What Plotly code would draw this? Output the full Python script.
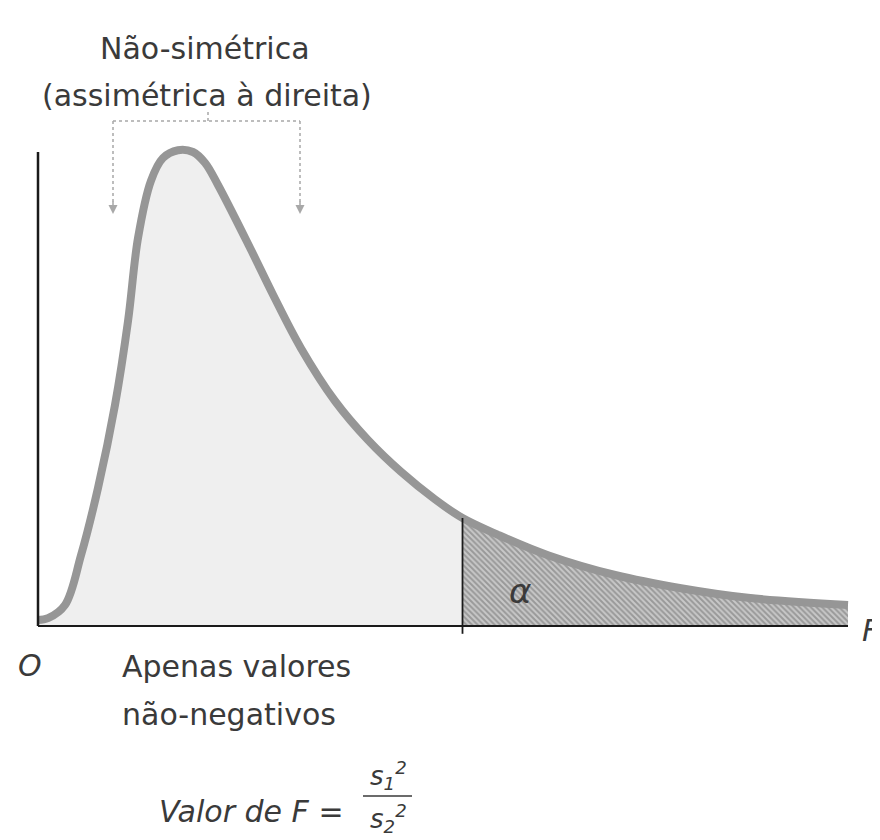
import plotly.graph_objects as go

# curve of the F density (F value, height)
f_vals = [0.0, 0.067, 0.18, 0.287, 0.4, 0.513, 0.6, 0.667, 0.753, 0.833, 0.933, 1.033,
          1.113, 1.2, 1.42, 1.567, 1.753, 1.98, 2.2, 2.42, 2.647, 2.83,
          3.067, 3.4, 3.847, 4.287, 4.733, 5.4]
density = [0.01, 0.013, 0.035, 0.118, 0.23, 0.368, 0.508, 0.647, 0.742, 0.78, 0.793, 0.79,
           0.772, 0.735, 0.627, 0.552, 0.463, 0.375, 0.31, 0.257, 0.211, 0.18,
           0.152, 0.118, 0.085, 0.063, 0.047, 0.035]
f_crit = 2.83
y_axis_top = 0.79

W, H = 880, 840
def px(x):
    return x / W
def py(y):
    return 1 - y / H

left_x = [x for x in f_vals if x <= f_crit]
left_y = density[:len(left_x)]
right_x = [x for x in f_vals if x >= f_crit]
right_y = density[len(f_vals) - len(right_x):]
crit_y = density[f_vals.index(f_crit)]

fig = go.Figure()

fig.add_trace(go.Scatter(
    x=left_x, y=left_y, mode="lines", fill="tozeroy",
    fillcolor="#efefef", line=dict(width=0, shape="spline"),
    hoverinfo="skip"))

fig.add_trace(go.Scatter(
    x=right_x, y=right_y, mode="lines", fill="tozeroy",
    fillcolor="#c4c4c4",
    fillpattern=dict(shape="\\", fgcolor="#6a6a6a", bgcolor="#c8c8c8",
                     size=4, solidity=0.5),
    line=dict(width=0, shape="spline"),
    hoverinfo="skip"))

fig.add_trace(go.Scatter(
    x=f_vals, y=density, mode="lines",
    line=dict(color="#969696", width=8, shape="spline"),
    hoverinfo="skip"))

# axes as drawn in the figure
fig.add_shape(type="line", x0=0, x1=0, y0=0, y1=y_axis_top,
              line=dict(color="#1a1a1a", width=2.5))
fig.add_shape(type="line", x0=0, x1=f_vals[-1], y0=0, y1=0,
              line=dict(color="#1a1a1a", width=2))
fig.add_shape(type="line", x0=f_crit, x1=f_crit, y0=-0.013, y1=crit_y,
              line=dict(color="#1a1a1a", width=1.8))

# dotted bracket with arrows
br = "#a8a8a8"
fig.add_shape(type="line", xref="paper", yref="paper",
              x0=px(105), x1=px(292), y0=py(113), y1=py(113),
              line=dict(color=br, width=1.5, dash="dot"))
fig.add_shape(type="line", xref="paper", yref="paper",
              x0=px(200), x1=px(200), y0=py(104), y1=py(113),
              line=dict(color=br, width=1.5, dash="dot"))
for xa in (105, 292):
    fig.add_shape(type="line", xref="paper", yref="paper",
                  x0=px(xa), x1=px(xa), y0=py(113), y1=py(196),
                  line=dict(color=br, width=1.5, dash="dot"))
    fig.add_annotation(xref="paper", yref="paper", x=px(xa), y=py(206),
                       ax=0, ay=-14, text="", showarrow=True,
                       arrowhead=2, arrowsize=1.2, arrowwidth=1.5, arrowcolor=br)

font = "DejaVu Sans"
tc = "#3a3a3a"
def label(text, x, y, size=30, anchor="center", italic=False):
    fig.add_annotation(xref="paper", yref="paper", x=px(x), y=py(y),
                       text=f"<i>{text}</i>" if italic else text,
                       showarrow=False, xanchor=anchor, yanchor="middle",
                       font=dict(family=font, size=size, color=tc))

label("Não-simétrica", 197, 40)
label("(assimétrica à direita)", 199, 88)
label("O", 22, 657, italic=True)
label("Apenas valores", 112, 658, anchor="left")
label("não-negativos", 112, 706, anchor="left")
label("Valor de F =", 338, 803, anchor="right", italic=True)
label("s<sub>1</sub><sup>2</sup>", 380, 767, size=26, italic=True)
label("s<sub>2</sub><sup>2</sup>", 380, 810, size=26, italic=True)
fig.add_shape(type="line", xref="paper", yref="paper",
              x0=px(355), x1=px(404), y0=py(788), y1=py(788),
              line=dict(color=tc, width=1.5))
label("α", 512, 583, size=34, italic=True)
label("F", 852, 622, size=30, anchor="left", italic=True)

fig.update_layout(
    width=W, height=H,
    margin=dict(l=0, r=0, t=0, b=0),
    paper_bgcolor="white", plot_bgcolor="white",
    showlegend=False,
    xaxis=dict(range=[-0.2, (W - 30) / 150], visible=False, fixedrange=True),
    yaxis=dict(range=[-(H - 618) / 600, 618 / 600], visible=False, fixedrange=True),
)

fig.write_html("out.html")
